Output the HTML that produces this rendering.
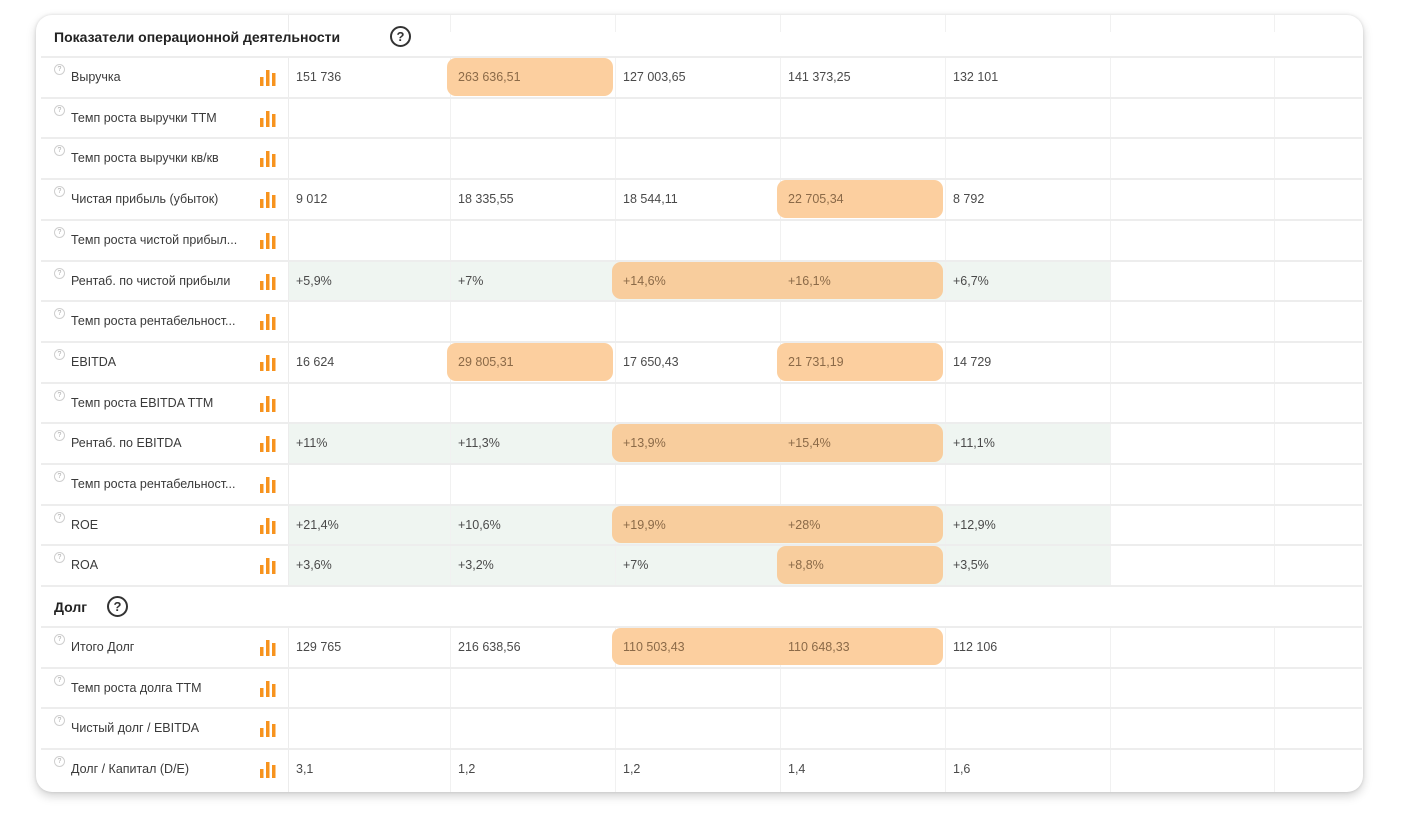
<!DOCTYPE html>
<html><head><meta charset="utf-8">
<style>
html,body{margin:0;padding:0;background:#fff;}
body{width:1408px;height:834px;position:relative;overflow:hidden;font-family:"Liberation Sans","Noto Sans CJK SC",sans-serif;}
#card{position:absolute;left:36px;top:15px;width:1327px;height:777px;background:#fff;border-radius:16px;box-shadow:0 4px 10px rgba(0,0,0,0.18),0 0 3px rgba(0,0,0,0.12);overflow:hidden;}
.abs{position:absolute;}
.hline{position:absolute;height:2px;background:#ededed;}
.vline{position:absolute;width:1px;background:#f1f1f1;}
.lbl{position:absolute;font-size:12.5px;color:#3a3a3a;white-space:nowrap;}
.val{position:absolute;font-size:12.5px;color:#4a4a4a;white-space:nowrap;}
.hl{position:absolute;background:#fccf9f;border-radius:9px;}
.qs{position:absolute;width:9px;height:9px;border:1px solid #cfcfcf;border-radius:50%;font-size:7px;color:#aaa;text-align:center;line-height:9px;}
.sec{position:absolute;font-size:14px;font-weight:bold;color:#222;}
.qb{position:absolute;width:17px;height:17px;border:2px solid #333;border-radius:50%;font-size:13px;font-weight:bold;color:#333;text-align:center;line-height:17px;}
</style></head><body>
<div id="card"></div>
<script>
const colEdges=[288,450,615,780,945,1110,1274,1362];
const rowNames=["Показатели операционной деятельности","Выручка","Темп роста выручки TTM","Темп роста выручки кв/кв","Чистая прибыль (убыток)","Темп роста чистой прибыл...","Рентаб. по чистой прибыли","Темп роста рентабельност...","EBITDA","Темп роста EBITDA TTM","Рентаб. по EBITDA","Темп роста рентабельност...","ROE","ROA","Долг","Итого Долг","Темп роста долга TTM","Чистый долг / EBITDA","Долг / Капитал (D/E)"];
const sectionRows=[0,14];
const greenRows=[6,10,12,13];
const values={
1:["151 736","263 636,51","127 003,65","141 373,25","132 101"],
4:["9 012","18 335,55","18 544,11","22 705,34","8 792"],
6:["+5,9%","+7%","+14,6%","+16,1%","+6,7%"],
8:["16 624","29 805,31","17 650,43","21 731,19","14 729"],
10:["+11%","+11,3%","+13,9%","+15,4%","+11,1%"],
12:["+21,4%","+10,6%","+19,9%","+28%","+12,9%"],
13:["+3,6%","+3,2%","+7%","+8,8%","+3,5%"],
15:["129 765","216 638,56","110 503,43","110 648,33","112 106"],
18:["3,1","1,2","1,2","1,4","1,6"]
};
// highlighted ranges: [row, firstCol, lastCol]
const highlights=[[1,1,1],[4,3,3],[6,2,3],[8,1,1],[8,3,3],[10,2,3],[12,2,3],[13,3,3],[15,2,3]];

const card=document.getElementById('card');
const OX=36,TOP=1.3,RH=40.7;
function rowTop(i){return TOP+i*RH;}
function mk(cls,name){const d=document.createElement('div');d.className=cls;card.appendChild(d);return d;}

greenRows.forEach(r=>{
 const g=document.createElement('div');g.className='abs';
 
 
 g.style.cssText=`left:${colEdges[0]-OX}px;top:${rowTop(r)+1}px;width:${colEdges[5]-colEdges[0]}px;height:${RH-1}px;background:#eff5f1;`;
 card.appendChild(g);
});
colEdges.slice(0,7).forEach((x,i)=>{
 const v=mk('vline','column-divider');
 v.style.left=(x-OX)+'px';v.style.top='0px';v.style.height='777px';
 if(i===0){v.style.background='#ececec';}
});
rowNames.forEach((n,i)=>{
 const t=rowTop(i);
 if(i>0){const h=mk('hline','row-divider');h.style.left='5px';h.style.width=(1362-OX-5)+'px';h.style.top=(t-1)+'px';}
 if(sectionRows.includes(i)){
  const bg=document.createElement('div');bg.className='abs';
  
  
  bg.style.cssText=`left:0;top:${t+(i?1:16)}px;width:1327px;height:${RH-(i?2:17)}px;background:#fff;`;card.appendChild(bg);
  const s=mk('sec','section-title');s.textContent=n;s.style.left=(54-OX)+'px';s.style.top=(t+13)+'px';
  const w=i===0?390:107;
  const q=document.createElement('div');q.className='qb';q.textContent='?';
  
  
  q.style.left=(w-OX)+'px';q.style.top=(t+10)+'px';card.appendChild(q);
  return;
 }
 const q=mk('qs','row-help-icon');q.textContent='?';q.style.left=(54-OX)+'px';q.style.top=(t+7)+'px';
 const l=mk('lbl','row-label');l.textContent=n;l.style.left=(71-OX)+'px';l.style.top=(t+13)+'px';
 const ic=document.createElementNS('http://www.w3.org/2000/svg','svg');
 
 
 ic.setAttribute('width','18');ic.setAttribute('height','18');
 ic.style.cssText=`position:absolute;left:${259-OX}px;top:${t+12}px;`;
 ic.innerHTML='<rect x="1" y="8" width="3.5" height="9" fill="#f7931e"/><rect x="7" y="1" width="3.5" height="16" fill="#f7931e"/><rect x="13" y="4" width="3.5" height="13" fill="#f7931e"/>';
 card.appendChild(ic);
});
highlights.forEach(([r,a,b])=>{
 const h=mk('hl','highlight-cell');
 h.style.left=(colEdges[a]-OX-3)+'px';h.style.width=(colEdges[b+1]-colEdges[a]+1)+'px';
 h.style.top=(rowTop(r)+1)+'px';h.style.height=(RH-3)+'px';
 if(greenRows.includes(r))h.style.background='#f8cd9d';
});
Object.keys(values).forEach(k=>{
 const r=+k;
 values[k].forEach((v,c)=>{
  const e=mk('val','cell-value');e.textContent=v;
  e.style.left=(colEdges[c]-OX+8)+'px';e.style.top=(rowTop(r)+13)+'px';
  if(highlights.some(([hr,a,b])=>hr===r&&c>=a&&c<=b))e.style.color='#8b6a48';
 });
});
</script>
</body></html>
